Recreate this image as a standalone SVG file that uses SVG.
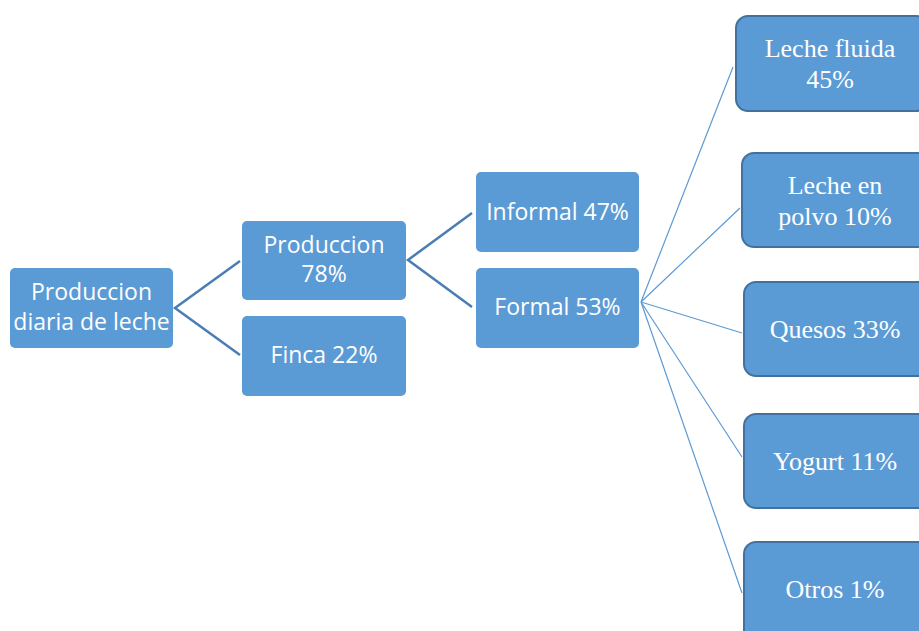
<svg xmlns="http://www.w3.org/2000/svg" width="919" height="631" viewBox="0 0 919 631">
<style>
.box{fill:#5b9bd5;}
.box2{fill:#5b9bd5;stroke:#41719c;stroke-width:2;}
.t1{font-family:"Open Sans","Liberation Sans",sans-serif;font-size:23px;fill:#fff;text-anchor:middle;}
.t2{font-family:"Liberation Serif","Times New Roman",serif;font-size:26px;fill:#fff;text-anchor:middle;}
.thick{fill:none;stroke:#4a7db5;stroke-width:2.5;}
.thin{fill:none;stroke:#5b9bd5;stroke-width:1.2;}
</style>
<rect width="919" height="631" fill="#fff"/>
<g id="connectors">
<path class="thick" d="M240,261 L175,308 L240,355"/>
<path class="thick" d="M472,213 L408,260 L472,307"/>
<path class="thin" d="M733,67 L641,302 L740,208 M641,302 L742,333 M641,302 L742,457 M641,302 L742,593"/>
</g>
<g id="n-root"><rect class="box" x="10" y="268" width="163" height="80" rx="5"/><text class="t1" x="91.5" y="300">Produccion</text><text class="t1" x="91.5" y="330">diaria de leche</text></g>
<g id="n-produccion"><rect class="box" x="242" y="221" width="164" height="79" rx="5"/><text class="t1" x="324" y="253">Produccion</text><text class="t1" x="324" y="282">78%</text></g>
<g id="n-finca"><rect class="box" x="242" y="316" width="164" height="80" rx="5"/><text class="t1" x="324" y="363">Finca 22%</text></g>
<g id="n-informal"><rect class="box" x="476" y="172" width="163" height="80" rx="5"/><text class="t1" x="557.5" y="220">Informal 47%</text></g>
<g id="n-formal"><rect class="box" x="476" y="268" width="163" height="80" rx="5"/><text class="t1" x="557.5" y="315">Formal 53%</text></g>
<g id="n-fluida"><rect class="box2" x="736" y="16" width="192" height="95" rx="12"/><text class="t2" x="830" y="57">Leche fluida</text><text class="t2" x="830" y="88">45%</text></g>
<g id="n-polvo"><rect class="box2" x="742" y="153" width="192" height="94" rx="12"/><text class="t2" x="835" y="194">Leche en</text><text class="t2" x="835" y="225">polvo 10%</text></g>
<g id="n-quesos"><rect class="box2" x="744" y="282" width="192" height="94" rx="12"/><text class="t2" x="835" y="338">Quesos 33%</text></g>
<g id="n-yogurt"><rect class="box2" x="744" y="414" width="192" height="94" rx="12"/><text class="t2" x="835" y="470">Yogurt 11%</text></g>
<g id="n-otros"><rect class="box2" x="744" y="542" width="192" height="100" rx="12"/><text class="t2" x="835" y="598">Otros 1%</text></g>
</svg>
